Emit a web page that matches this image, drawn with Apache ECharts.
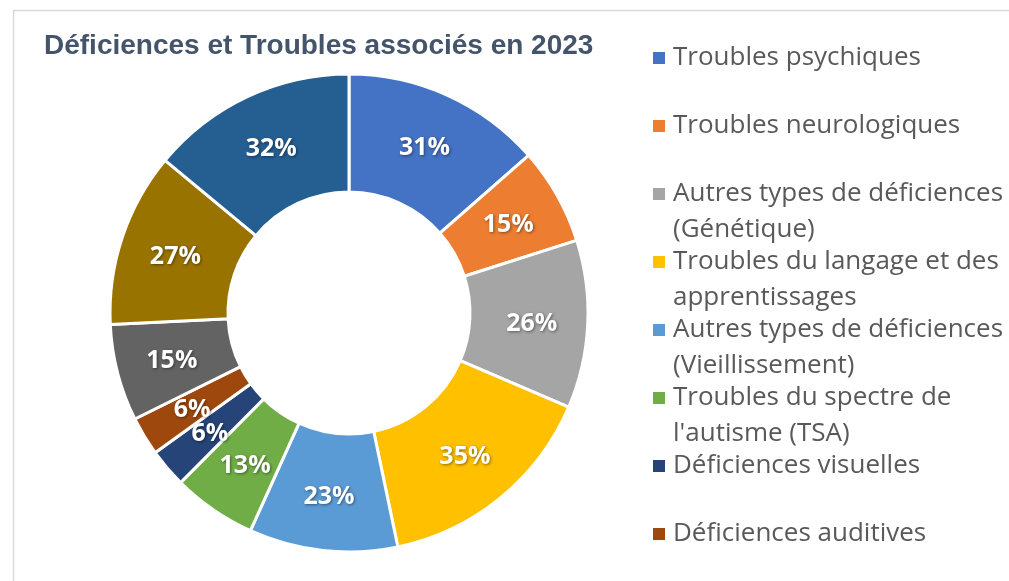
<!DOCTYPE html>
<html>
<head>
<meta charset="utf-8">
<script src="https://cdn.jsdelivr.net/npm/echarts@6/dist/echarts.min.js"></script>
<style>
html, body { margin: 0; padding: 0; background: #fff; }
#chart { width: 1009px; height: 581px; }
</style>
</head>
<body>
<div id="chart"></div>
<script>
// slices, clockwise from 12 o'clock
const categories = [
    'Troubles psychiques',
    'Troubles neurologiques',
    'Autres types de déficiences (Génétique)',
    'Troubles du langage et des apprentissages',
    'Autres types de déficiences (Vieillissement)',
    'Troubles du spectre de l\'autisme (TSA)',
    'Déficiences visuelles',
    'Déficiences auditives',
    'Déficiences motrices',
    'Déficiences intellectuelles',
    'Polyhandicap'
]
const values = [31, 15, 26, 35, 23, 13, 6, 6, 15, 27, 32]
const colors = ['#4472C4', '#ED7D31', '#A5A5A5', '#FFC000', '#5B9BD5', '#70AD47',
    '#264478', '#9E480E', '#636363', '#997300', '#255E91']

// only the first 8 entries fit in the legend box
const legendLines = {
    'Troubles psychiques': 'Troubles psychiques\n ',
    'Troubles neurologiques': 'Troubles neurologiques\n ',
    'Autres types de déficiences (Génétique)': 'Autres types de déficiences\n(Génétique)',
    'Troubles du langage et des apprentissages': 'Troubles du langage et des\napprentissages',
    'Autres types de déficiences (Vieillissement)': 'Autres types de déficiences\n(Vieillissement)',
    'Troubles du spectre de l\'autisme (TSA)': 'Troubles du spectre de\nl\'autisme (TSA)',
    'Déficiences visuelles': 'Déficiences visuelles\n ',
    'Déficiences auditives': 'Déficiences auditives\n ',
}
const legendNames = categories.slice(0, 8)

const myChart = echarts.init(document.getElementById('chart'))
myChart.setOption({
    animation: false,
    color: colors,
    title: {
        text: 'Déficiences et Troubles associés en 2023',
        left: 44,
        top: 32,
        padding: 0,
        textStyle: {
            fontFamily: '"Liberation Sans", Arial, sans-serif',
            fontSize: 28,
            fontWeight: 'bold',
            color: '#44546A'
        }
    },
    graphic: [{
        type: 'rect',
        silent: true,
        shape: { x: 13.5, y: 10.5, width: 1100, height: 700 },
        style: { fill: null, stroke: '#D9D9D9', lineWidth: 1.5 }
    }],
    legend: {
        orient: 'vertical',
        left: 653,
        top: 40,
        height: 700,
        padding: 0,
        itemGap: -4,
        // square on top, invisible point to stretch the box so the icon sits on line one
        icon: 'path://M0,0H12V12H0Z M15,48L15,48',
        itemWidth: 15,
        itemHeight: 48,
        itemStyle: { borderWidth: 0 },
        data: legendNames,
        formatter: name => legendLines[name] || name,
        textStyle: {
            fontFamily: '"Open Sans", sans-serif',
            fontSize: 26,
            lineHeight: 36,
            color: '#595959'
        }
    },
    series: [{
        type: 'pie',
        center: [349, 313],
        radius: [121, 239],
        startAngle: 90,
        clockwise: true,
        avoidLabelOverlap: false,
        labelLayout: { hideOverlap: false },
        itemStyle: {
            borderColor: '#fff',
            borderWidth: 3
        },
        label: {
            show: true,
            position: 'inside',
            formatter: p => p.value + '%',
            fontFamily: '"Open Sans", sans-serif',
            fontSize: 25,
            fontWeight: 'bold',
            color: '#fff',
            offset: [0, 2],
            textShadowColor: 'rgba(0,0,0,0.45)',
            textShadowBlur: 3,
            textShadowOffsetX: 1,
            textShadowOffsetY: 1
        },
        labelLine: { show: false },
        emphasis: { disabled: true },
        data: categories.map((name, i) => ({ name, value: values[i] }))
    }]
})
</script>
</body>
</html>
